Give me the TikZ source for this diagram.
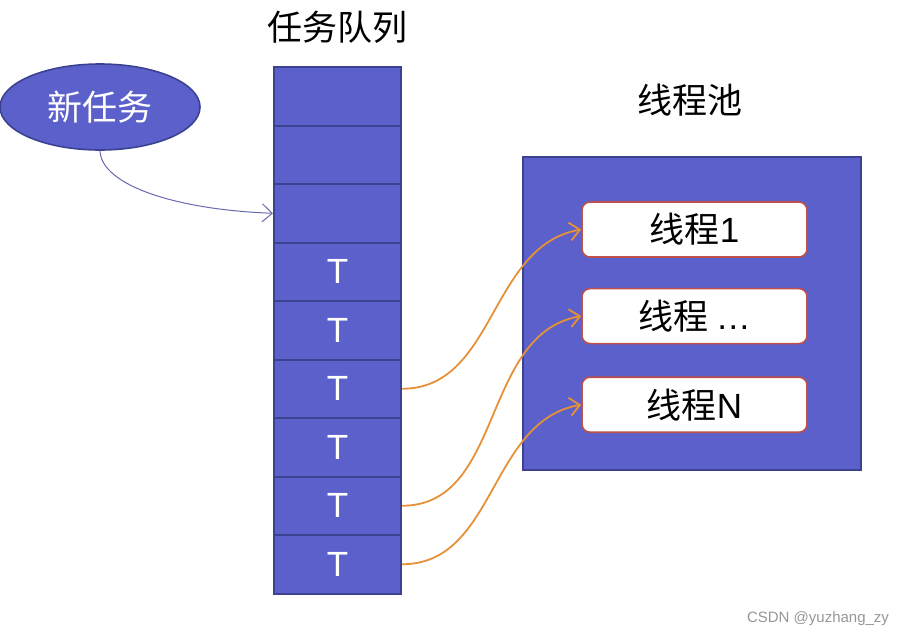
\documentclass[tikz,border=0pt]{standalone}
\usepackage{fontspec}
\setmainfont{Noto Sans CJK SC}
\newfontfamily\latinfont{Liberation Sans}
\usetikzlibrary{positioning,arrows.meta,shapes.geometric}
\definecolor{qfill}{RGB}{91,96,202}
\definecolor{qline}{RGB}{60,66,145}
\definecolor{tline}{RGB}{190,80,75}
\definecolor{flow}{RGB}{230,145,56}
\definecolor{newline}{RGB}{105,105,175}
\definecolor{wmgray}{RGB}{150,150,150}
\newcommand\labelsize{\fontsize{17.5}{20}\selectfont}
\tikzset{
  cell/.style={draw=qline, line width=1pt, fill=qfill, minimum width=63.5pt,
               minimum height=29.25pt, inner sep=0pt, text=white, font=\labelsize},
  task/.style={ellipse, draw=qline, line width=0.8pt, fill=qfill, minimum width=100pt,
               minimum height=43pt, inner sep=0pt, text=white, font=\labelsize},
  pool/.style={draw=qline, line width=1pt, fill=qfill, minimum width=169pt,
               minimum height=156.5pt, inner sep=0pt},
  worker/.style={draw=tline, line width=0.8pt, rounded corners=4pt, fill=white,
               minimum width=112.5pt, minimum height=27.5pt, inner sep=0pt, font=\labelsize},
  title/.style={font=\labelsize, text=black},
  wm/.style={font=\latinfont\fontsize{7.5}{9}\selectfont, text=wmgray},
  newarr/.style={-{Straight Barb[length=5pt,width=9pt]}, line width=0.5pt, draw=newline},
  flowarr/.style={-{Straight Barb[length=5pt,width=9pt]}, line width=0.9pt, draw=flow},
}
\begin{document}
\begin{tikzpicture}[x=0.5pt, y=-0.5pt]
  \useasboundingbox (0,0) rectangle (903,637);

  % task queue
  \node[title] (qtitle) at (337,27) {任务队列};
  \foreach \i in {1,...,9}{
    \node[cell] (q\i) at (337.5,{67+58.5*(\i-0.5)}) {\ifnum\i>3 {\latinfont T}\fi};
  }

  \node[task] (new) at (100,107) {新任务};

  % thread pool
  \node[pool] (pool) at (692,313.5) {};
  \node[title] (ptitle) at (690,100) {线程池};
  \node[worker] (w1) at (694.5,229.5) {线程{\latinfont 1}};
  \node[worker, below=15pt of w1] (w2) {线程 {\latinfont …}};
  \node[worker, below=16pt of w2] (w3) {线程{\latinfont N}};

  \draw[newarr] (new.south) to[out=-88,in=178,out distance=17.5pt,in distance=47.5pt] (q3.west);
  \draw[flowarr] (q6.east) to[out=0,in=190] (w1.west);
  \draw[flowarr] (q8.east) to[out=0,in=190] (w2.west);
  \draw[flowarr] (q9.east) to[out=0,in=190] (w3.west);

  \node[wm] (wm) at (818,619) {CSDN @yuzhang\_zy};
\end{tikzpicture}
\end{document}
